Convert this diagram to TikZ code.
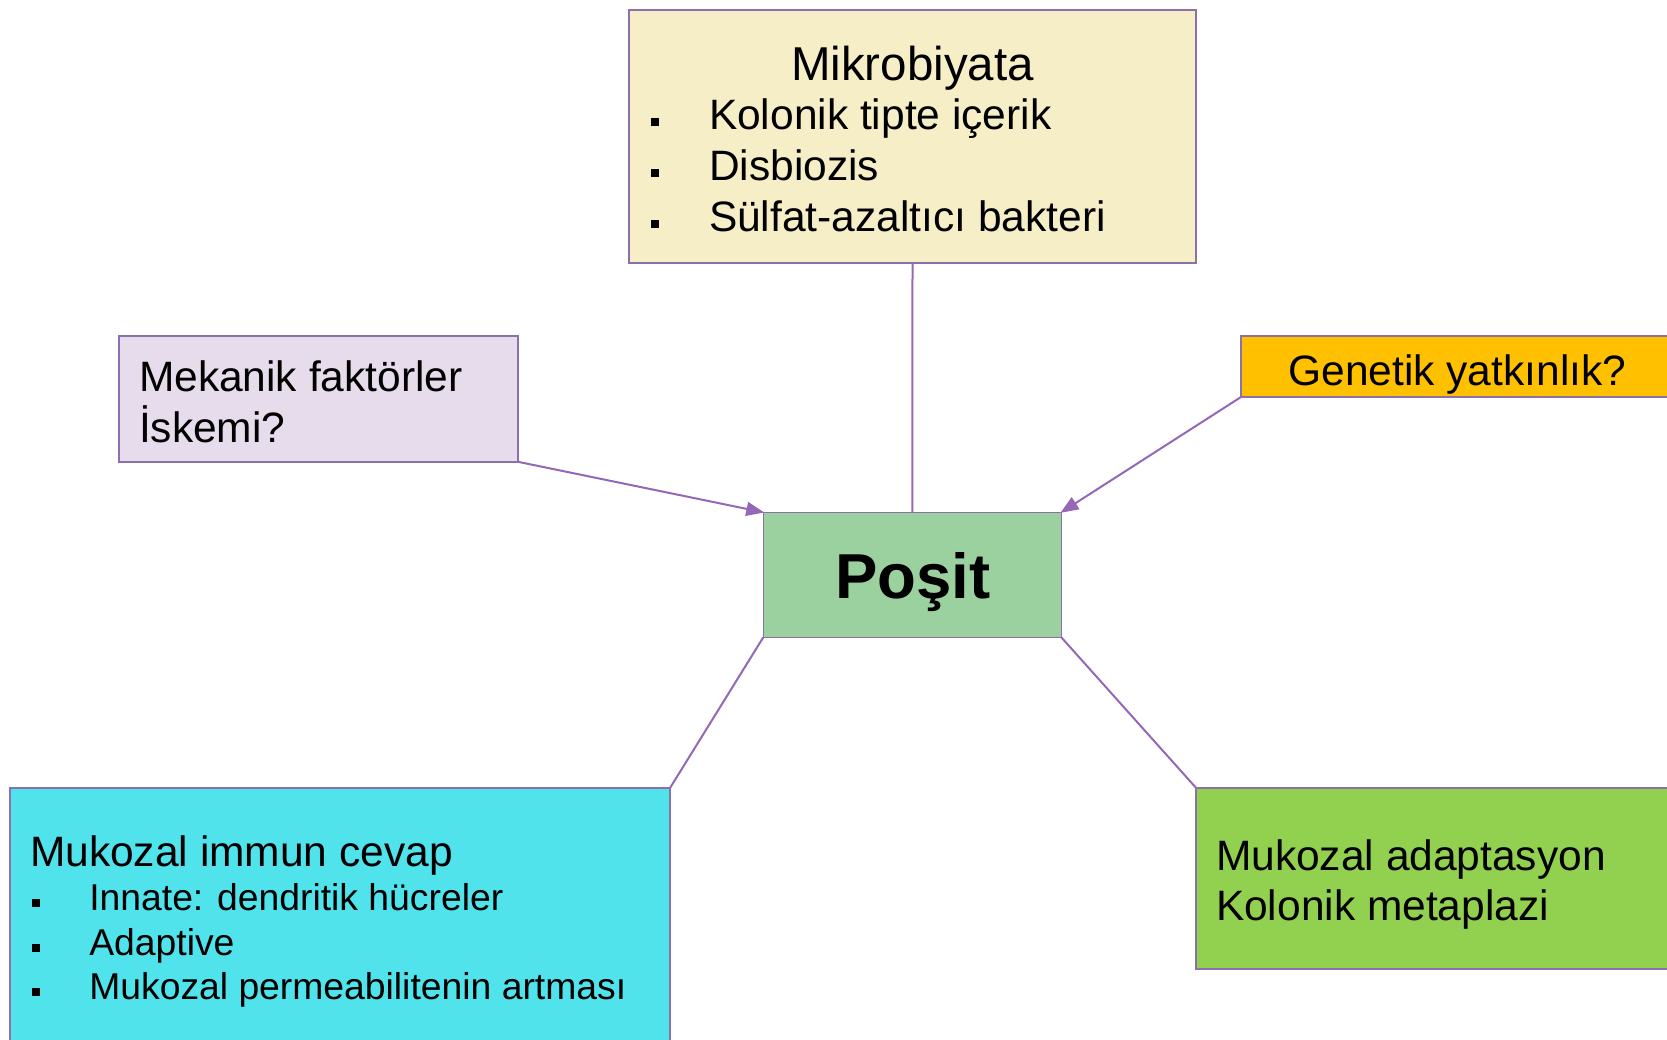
\documentclass[tikz,border=0pt]{standalone}
\usepackage{fontspec}
\setmainfont{Liberation Sans}
\usetikzlibrary{arrows.meta}
\definecolor{mikrofill}{HTML}{F5EEC6}
\definecolor{positfill}{HTML}{9BD09F}
\definecolor{genfill}{HTML}{FFC000}
\definecolor{mekfill}{HTML}{E7DCEC}
\definecolor{immfill}{HTML}{50E3EC}
\definecolor{adapfill}{HTML}{92D050}
\definecolor{edgecol}{HTML}{8C70AC}
\definecolor{linkcol}{HTML}{9468B6}
\tikzset{
  box/.style={draw=edgecol, line width=1.4pt, rectangle, inner sep=0pt, outer sep=0pt},
  txt/.style={anchor=base west, inner sep=0pt, outer sep=0pt, font=\fontsize{42.5}{50}\selectfont},
  smalltxt/.style={anchor=base west, inner sep=0pt, outer sep=0pt, font=\fontsize{37.3}{45}\selectfont},
  link/.style={draw=linkcol, line width=2pt},
  arrowlink/.style={link, -{Triangle[length=18pt,width=14pt]}, shorten >=-1pt},
}
\newcommand{\bigbullet}{\rule[4pt]{8pt}{8pt}}
\newcommand{\smallbullet}{\rule[3.5pt]{7.5pt}{7.5pt}}
\begin{document}
\begin{tikzpicture}[x=1pt,y=-1pt]
\useasboundingbox (0,0) rectangle (1667,1039);
\clip (0,0) rectangle (1667,1039);

% boxes
\node[box, fill=mikrofill, minimum width=567pt, minimum height=253pt] (mik) at (912.5,136.5) {};
\node[box, fill=positfill, minimum width=298pt, minimum height=125pt] (posit) at (912.3,574.8) {};
\node[box, fill=genfill, minimum width=460pt, minimum height=61pt] (gen) at (1471,366.5) {};
\node[box, fill=mekfill, minimum width=399pt, minimum height=126pt] (mek) at (318.5,398.8) {};
\node[box, fill=immfill, minimum width=660pt, minimum height=280pt] (imm) at (340,928) {};
\node[box, fill=adapfill, minimum width=490pt, minimum height=181pt] (adap) at (1441,878.3) {};

% connectors
\draw[link] (mik.south) -- (posit.north);
\draw[arrowlink] (mek.south east) -- (posit.north west);
\draw[arrowlink] (gen.south west) -- (posit.north east);
\draw[link] (posit.south west) -- (imm.north east);
\draw[link] (posit.south east) -- (adap.north west);

% Mikrobiyata
\node[anchor=base, inner sep=0pt, font=\fontsize{47.5}{55}\selectfont] (mikt) at (912.5,80) {Mikrobiyata};
\node[txt] (mikb1) at (651,129.5) {\bigbullet};
\node[txt] (mik1) at (709,129.5) {Kolonik tipte içerik};
\node[txt] (mikb2) at (651,180.5) {\bigbullet};
\node[txt] (mik2) at (709,180.5) {Disbiozis};
\node[txt] (mikb3) at (651,231.5) {\bigbullet};
\node[txt] (mik3) at (709,231.5) {Sülfat-azaltıcı bakteri};

% Posit
\node[anchor=base, inner sep=0pt, font=\fontsize{63.5}{70}\selectfont\bfseries] (positt) at (913,598) {Poşit};

% Genetik
\node[txt] (gent) at (1288.5,385) {Genetik yatkınlık?};

% Mekanik
\node[txt] (mek1) at (139,391.5) {Mekanik faktörler};
\node[txt] (mek2) at (139,442) {İskemi?};

% Mukozal immun cevap
\node[txt] (immt) at (30,866) {Mukozal immun cevap};
\node[smalltxt] (immb1) at (32,910) {\smallbullet};
\node[smalltxt] (imm1) at (89.3,910) {Innate: dendritik hücreler};
\node[smalltxt] (immb2) at (32,955) {\smallbullet};
\node[smalltxt] (imm2) at (89.3,955) {Adaptive};
\node[smalltxt] (immb3) at (32,999) {\smallbullet};
\node[smalltxt] (imm3) at (89.3,999) {Mukozal permeabilitenin artması};

% Mukozal adaptasyon
\node[txt] (adap1) at (1216,870) {Mukozal adaptasyon};
\node[txt] (adap2) at (1216,920) {Kolonik metaplazi};
\end{tikzpicture}
\end{document}
